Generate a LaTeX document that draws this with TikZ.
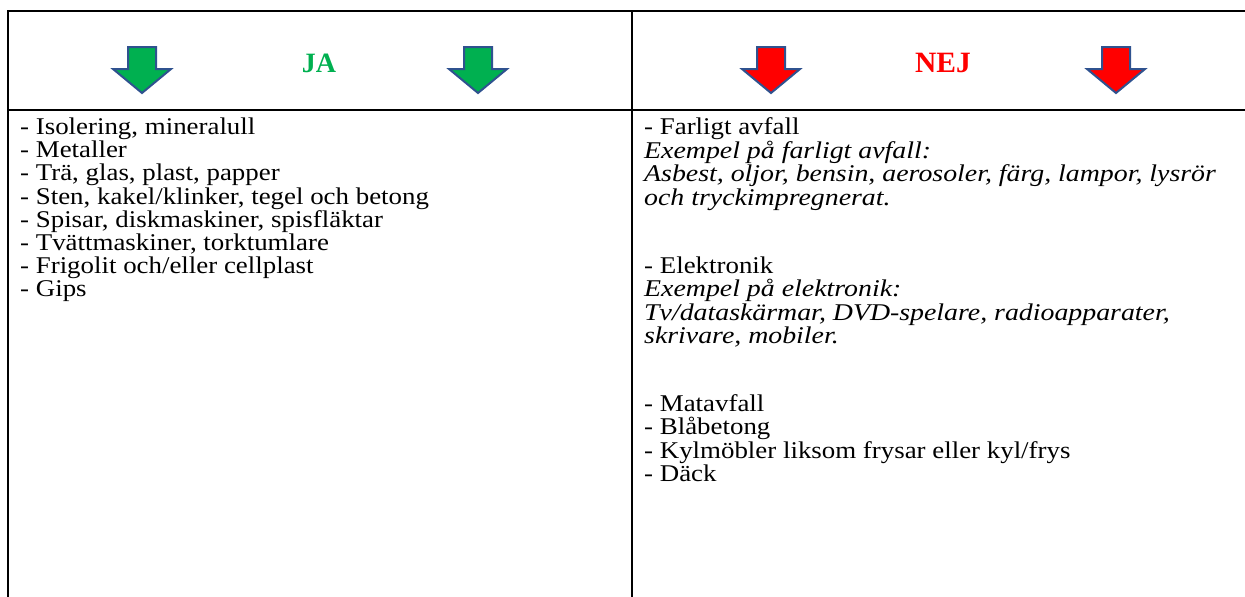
\documentclass[tikz,border=0pt]{standalone}
\usepackage{fontspec}
\setmainfont{Liberation Serif}
\newfontfamily\widefont{Liberation Serif}[FakeStretch=1.12]
\newfontfamily\wideitfont{Liberation Serif}[FakeStretch=1.16]
\definecolor{jagreen}{RGB}{0,176,80}
\definecolor{nejred}{RGB}{255,0,0}
\definecolor{arrowedge}{RGB}{47,82,143}
\begin{document}
\begin{tikzpicture}[x=1pt,y=-1pt,
  rule/.style={line width=2.4pt, line cap=rect},
  bigarrow/.style={draw=arrowedge, line width=2pt, line join=miter},
  item/.style={anchor=base west, inner sep=0pt, font=\widefont\fontsize{24}{25}\selectfont},
  itemit/.style={item, font=\wideitfont\fontsize{24}{25}\selectfont\itshape},
  head/.style={inner sep=0pt, font=\fontsize{28}{30}\selectfont\bfseries},
  darrow/.pic={\path[pic actions] (-14,-23) -- (14,-23) -- (14,-1) -- (29,-1) -- (0,23) -- (-29,-1) -- (-14,-1) -- cycle;}]
\useasboundingbox (0,0) rectangle (1245,597);
% table rules
\coordinate (tl) at (8,11);
\coordinate (tr) at (1245,11);
\coordinate (hl) at (8,110);
\coordinate (hr) at (1245,110);
\coordinate (bl) at (8,597);
\coordinate (mt) at (632,11);
\coordinate (mb) at (632,597);
\draw[rule] (tl) -- (tr);
\draw[rule] (hl) -- (hr);
\draw[rule] (tl) -- (bl);
\draw[rule] (mt) -- (mb);
% header
\pic[bigarrow, fill=jagreen] (ga) at (142,70) {darrow};
\pic[bigarrow, fill=jagreen] (gb) at (478,70) {darrow};
\pic[bigarrow, fill=nejred] (ra) at (771,70) {darrow};
\pic[bigarrow, fill=nejred] (rb) at (1116,70) {darrow};
\node[head, text=jagreen] (ja) at (319,63) {JA};
\node[head, text=nejred, font=\fontsize{29.5}{30}\selectfont\bfseries] (nej) at (943,63) {NEJ};
% left column
\foreach \t [count=\i from 0] in {{- Isolering, mineralull},{- Metaller},{- Trä, glas, plast, papper},{- Sten, kakel/klinker, tegel och betong},{- Spisar, diskmaskiner, spisfläktar},{- Tvättmaskiner, torktumlare},{- Frigolit och/eller cellplast},{- Gips}}
  \node[item] (L\i) at (20,{134.5+23.2*\i}) {\t};
% right column
\node[item] (r1) at (644,134.5) {- Farligt avfall};
\node[itemit] (r2) at (644,158) {Exempel på farligt avfall:};
\node[itemit] (r3) at (644,181.5) {Asbest, oljor, bensin, aerosoler, färg, lampor, lysrör};
\node[itemit] (r4) at (644,205) {och tryckimpregnerat.};
\node[item] (r5) at (644,273) {- Elektronik};
\node[itemit] (r6) at (644,296.5) {Exempel på elektronik:};
\node[itemit] (r7) at (644,320) {Tv/dataskärmar, DVD-spelare, radioapparater,};
\node[itemit] (r8) at (644,343.5) {skrivare, mobiler.};
\node[item] (r9) at (644,411) {- Matavfall};
\node[item] (r10) at (644,434.5) {- Blåbetong};
\node[item] (r11) at (644,458) {- Kylmöbler liksom frysar eller kyl/frys};
\node[item] (r12) at (644,481.5) {- Däck};
\end{tikzpicture}
\end{document}
